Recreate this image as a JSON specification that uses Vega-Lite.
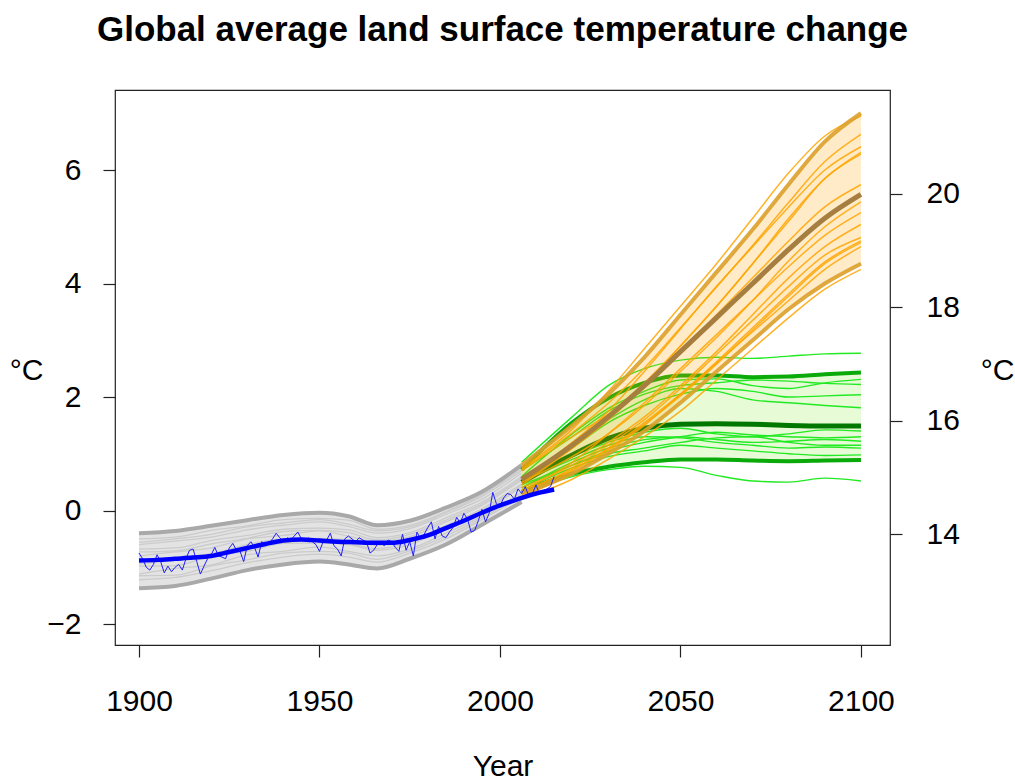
{
  "$schema": "https://vega.github.io/schema/vega-lite/v6.json",
  "width": 775,
  "height": 555,
  "autosize": {"type": "none"},
  "padding": {"left": 115, "top": 90, "right": 125, "bottom": 137},
  "background": "white",
  "title": {"text": "Global average land surface temperature change", "font": "Liberation Sans", "fontSize": 35, "fontWeight": "bold", "color": "black", "anchor": "middle", "offset": 42},
  "config": {
    "view": {"stroke": "#222", "strokeWidth": 1.2},
    "axis": {"labelFont": "Liberation Sans", "labelFontSize": 30, "labelColor": "black", "tickColor": "#222", "tickSize": 12, "tickWidth": 1.2, "domain": false, "grid": false, "titleFont": "Liberation Sans", "titleFontSize": 30, "titleFontWeight": "normal", "titleColor": "black", "labelFlush": false, "labelOverlap": false}
  },
  "datasets": {
    "grey": [
      {"yr":1900,"gT":-0.40,"gB":-1.37,"g1":-1.22,"g2":-1.15,"g3":-1.12,"g4":-0.98,"g5":-0.94,"g6":-0.90,"g7":-0.80,"g8":-0.73,"g9":-0.68,"g10":-0.60,"g11":-0.56,"g12":-0.50},
      {"yr":1910,"gT":-0.36,"gB":-1.33,"g1":-1.18,"g2":-1.14,"g3":-1.02,"g4":-0.97,"g5":-0.88,"g6":-0.83,"g7":-0.73,"g8":-0.71,"g9":-0.66,"g10":-0.54,"g11":-0.50,"g12":-0.47},
      {"yr":1920,"gT":-0.27,"gB":-1.20,"g1":-1.06,"g2":-0.98,"g3":-0.96,"g4":-0.80,"g5":-0.79,"g6":-0.76,"g7":-0.66,"g8":-0.59,"g9":-0.53,"g10":-0.47,"g11":-0.42,"g12":-0.35},
      {"yr":1930,"gT":-0.17,"gB":-1.05,"g1":-0.92,"g2":-0.87,"g3":-0.78,"g4":-0.72,"g5":-0.64,"g6":-0.60,"g7":-0.50,"g8":-0.49,"g9":-0.44,"g10":-0.34,"g11":-0.29,"g12":-0.27},
      {"yr":1940,"gT":-0.08,"gB":-0.95,"g1":-0.82,"g2":-0.75,"g3":-0.72,"g4":-0.58,"g5":-0.57,"g6":-0.50,"g7":-0.44,"g8":-0.37,"g9":-0.33,"g10":-0.26,"g11":-0.22,"g12":-0.16},
      {"yr":1950,"gT":-0.04,"gB":-0.90,"g1":-0.77,"g2":-0.72,"g3":-0.64,"g4":-0.57,"g5":-0.50,"g6":-0.49,"g7":-0.36,"g8":-0.35,"g9":-0.31,"g10":-0.20,"g11":-0.16,"g12":-0.14},
      {"yr":1958,"gT":-0.10,"gB":-0.95,"g1":-0.82,"g2":-0.75,"g3":-0.72,"g4":-0.60,"g5":-0.58,"g6":-0.52,"g7":-0.45,"g8":-0.39,"g9":-0.34,"g10":-0.28,"g11":-0.24,"g12":-0.17},
      {"yr":1966,"gT":-0.26,"gB":-1.02,"g1":-0.91,"g2":-0.86,"g3":-0.80,"g4":-0.70,"g5":-0.67,"g6":-0.62,"g7":-0.55,"g8":-0.52,"g9":-0.48,"g10":-0.40,"g11":-0.36,"g12":-0.33},
      {"yr":1975,"gT":-0.18,"gB":-0.85,"g1":-0.75,"g2":-0.71,"g3":-0.68,"g4":-0.60,"g5":-0.56,"g6":-0.53,"g7":-0.46,"g8":-0.42,"g9":-0.39,"g10":-0.32,"g11":-0.29,"g12":-0.26},
      {"yr":1985,"gT":0.05,"gB":-0.60,"g1":-0.50,"g2":-0.45,"g3":-0.40,"g4":-0.32,"g5":-0.30,"g6":-0.27,"g7":-0.20,"g8":-0.17,"g9":-0.13,"g10":-0.07,"g11":-0.04,"g12":-0.02},
      {"yr":1995,"gT":0.33,"gB":-0.25,"g1":-0.16,"g2":-0.13,"g3":-0.10,"g4":-0.03,"g5":0.00,"g6":0.03,"g7":0.09,"g8":0.12,"g9":0.15,"g10":0.20,"g11":0.25,"g12":0.28},
      {"yr":2006,"gT":0.80,"gB":0.15,"g1":0.24,"g2":0.28,"g3":0.32,"g4":0.42,"g5":0.44,"g6":0.47,"g7":0.54,"g8":0.57,"g9":0.60,"g10":0.66,"g11":0.70,"g12":0.73}
    ],
    "orange": [
      {"yr":2006,"oU":0.80,"oB":0.30,"oM":0.55,"o1":0.75,"o2":0.72,"o3":0.55,"o4":0.70,"o5":0.50,"o6":0.28,"o7":0.45,"o8":0.50,"o9":0.35,"o10":0.40,"o11":0.30,"o12":0.35,"o13":0.25,"o14":0.20},
      {"yr":2020,"oU":1.50,"oB":0.65,"oM":1.15,"o1":1.43,"o2":1.37,"o3":1.20,"o4":1.30,"o5":1.10,"o6":0.70,"o7":1.10,"o8":0.95,"o9":0.85,"o10":0.80,"o11":0.75,"o12":0.72,"o13":0.65,"o14":0.55},
      {"yr":2030,"oU":2.05,"oB":1.00,"oM":1.65,"o1":2.10,"o2":1.89,"o3":1.75,"o4":1.70,"o5":1.60,"o6":1.08,"o7":1.60,"o8":1.35,"o9":1.35,"o10":1.20,"o11":1.15,"o12":1.10,"o13":1.05,"o14":0.90},
      {"yr":2040,"oU":2.70,"oB":1.40,"oM":2.20,"o1":2.85,"o2":2.51,"o3":2.45,"o4":2.25,"o5":2.20,"o6":1.52,"o7":2.20,"o8":1.85,"o9":1.90,"o10":1.65,"o11":1.60,"o12":1.55,"o13":1.50,"o14":1.30},
      {"yr":2050,"oU":3.45,"oB":1.90,"oM":2.80,"o1":3.60,"o2":3.22,"o3":3.20,"o4":2.90,"o5":2.90,"o6":2.02,"o7":2.80,"o8":2.45,"o9":2.50,"o10":2.20,"o11":2.15,"o12":2.05,"o13":2.05,"o14":1.75},
      {"yr":2060,"oU":4.20,"oB":2.45,"oM":3.40,"o1":4.35,"o2":3.94,"o3":3.95,"o4":3.60,"o5":3.60,"o6":2.58,"o7":3.45,"o8":3.05,"o9":3.10,"o10":2.80,"o11":2.75,"o12":2.62,"o13":2.60,"o14":2.30},
      {"yr":2070,"oU":4.95,"oB":3.00,"oM":4.00,"o1":5.15,"o2":4.67,"o3":4.65,"o4":4.35,"o5":4.35,"o6":3.18,"o7":4.10,"o8":3.70,"o9":3.70,"o10":3.45,"o11":3.35,"o12":3.22,"o13":3.15,"o14":2.85},
      {"yr":2080,"oU":5.75,"oB":3.55,"oM":4.60,"o1":5.95,"o2":5.43,"o3":5.35,"o4":5.15,"o5":5.10,"o6":3.78,"o7":4.75,"o8":4.40,"o9":4.30,"o10":4.10,"o11":3.95,"o12":3.82,"o13":3.70,"o14":3.40},
      {"yr":2090,"oU":6.50,"oB":4.00,"oM":5.15,"o1":6.60,"o2":6.15,"o3":6.00,"o4":5.85,"o5":5.85,"o6":4.35,"o7":5.35,"o8":5.00,"o9":4.85,"o10":4.65,"o11":4.50,"o12":4.38,"o13":4.25,"o14":3.90},
      {"yr":2100,"oU":7.00,"oB":4.35,"oM":5.57,"o1":6.95,"o2":6.63,"o3":6.41,"o4":6.31,"o5":6.28,"o6":4.72,"o7":5.74,"o8":5.44,"o9":5.25,"o10":5.04,"o11":4.81,"o12":4.75,"o13":4.65,"o14":4.25}
    ],
    "green": [
      {"yr":2006,"nU":0.72,"nL":0.33,"nM":0.50,"n1":0.85,"n2":0.60,"n3":0.70,"n4":0.50,"n5":0.55,"n6":0.45,"n7":0.45,"n8":0.40,"n9":0.40,"n10":0.50,"n11":0.35,"n12":0.30},
      {"yr":2020,"nU":1.55,"nL":0.65,"nM":0.98,"n1":1.65,"n2":1.35,"n3":1.30,"n4":1.10,"n5":1.15,"n6":0.95,"n7":0.80,"n8":0.85,"n9":0.80,"n10":0.90,"n11":0.75,"n12":0.60},
      {"yr":2030,"nU":1.98,"nL":0.77,"nM":1.27,"n1":2.20,"n2":1.80,"n3":1.75,"n4":1.55,"n5":1.60,"n6":1.20,"n7":1.05,"n8":1.10,"n9":1.00,"n10":1.15,"n11":0.95,"n12":0.72},
      {"yr":2040,"nU":2.25,"nL":0.85,"nM":1.45,"n1":2.50,"n2":2.10,"n3":2.05,"n4":1.85,"n5":1.95,"n6":1.38,"n7":1.20,"n8":1.25,"n9":1.10,"n10":1.30,"n11":1.05,"n12":0.78},
      {"yr":2050,"nU":2.38,"nL":0.90,"nM":1.52,"n1":2.65,"n2":2.30,"n3":2.20,"n4":2.05,"n5":2.15,"n6":1.45,"n7":1.30,"n8":1.30,"n9":1.20,"n10":1.28,"n11":1.15,"n12":0.76},
      {"yr":2060,"nU":2.38,"nL":0.90,"nM":1.53,"n1":2.70,"n2":2.32,"n3":2.25,"n4":2.15,"n5":2.10,"n6":1.35,"n7":1.38,"n8":1.25,"n9":1.28,"n10":1.20,"n11":1.10,"n12":0.62},
      {"yr":2070,"nU":2.35,"nL":0.88,"nM":1.52,"n1":2.68,"n2":2.20,"n3":2.30,"n4":2.10,"n5":1.95,"n6":1.30,"n7":1.33,"n8":1.20,"n9":1.30,"n10":1.15,"n11":1.05,"n12":0.52},
      {"yr":2080,"nU":2.36,"nL":0.87,"nM":1.50,"n1":2.72,"n2":2.15,"n3":2.28,"n4":2.00,"n5":1.90,"n6":1.35,"n7":1.30,"n8":1.22,"n9":1.20,"n10":1.10,"n11":1.00,"n12":0.50},
      {"yr":2090,"nU":2.40,"nL":0.88,"nM":1.49,"n1":2.76,"n2":2.25,"n3":2.24,"n4":2.02,"n5":1.85,"n6":1.42,"n7":1.28,"n8":1.25,"n9":1.15,"n10":1.12,"n11":0.97,"n12":0.57},
      {"yr":2100,"nU":2.43,"nL":0.89,"nM":1.49,"n1":2.77,"n2":2.31,"n3":2.22,"n4":2.04,"n5":1.81,"n6":1.40,"n7":1.30,"n8":1.22,"n9":1.15,"n10":1.10,"n11":0.98,"n12":0.52}
    ],
    "smooth": [
      {"yr":1900,"v":-0.88},{"yr":1905,"v":-0.87},{"yr":1910,"v":-0.85},{"yr":1915,"v":-0.83},{"yr":1920,"v":-0.80},{"yr":1925,"v":-0.73},{"yr":1930,"v":-0.66},{"yr":1935,"v":-0.59},{"yr":1940,"v":-0.53},{"yr":1945,"v":-0.51},{"yr":1950,"v":-0.53},{"yr":1955,"v":-0.55},{"yr":1960,"v":-0.56},{"yr":1965,"v":-0.57},{"yr":1970,"v":-0.57},{"yr":1975,"v":-0.52},{"yr":1980,"v":-0.44},{"yr":1985,"v":-0.31},{"yr":1990,"v":-0.18},{"yr":1995,"v":-0.04},{"yr":2000,"v":0.09},{"yr":2005,"v":0.20},{"yr":2010,"v":0.30},{"yr":2015,"v":0.37}
    ],
    "obs": [
      {"yr":1900,"v":-0.75},{"yr":1901,"v":-0.85},{"yr":1902,"v":-1.0},{"yr":1903,"v":-1.05},{"yr":1904,"v":-0.95},{"yr":1905,"v":-0.78},{"yr":1906,"v":-0.9},{"yr":1907,"v":-1.1},{"yr":1908,"v":-0.98},{"yr":1909,"v":-1.08},
      {"yr":1910,"v":-1.0},{"yr":1911,"v":-0.95},{"yr":1912,"v":-1.05},{"yr":1913,"v":-0.85},{"yr":1914,"v":-0.7},{"yr":1915,"v":-0.68},{"yr":1916,"v":-0.9},{"yr":1917,"v":-1.12},{"yr":1918,"v":-0.98},{"yr":1919,"v":-0.85},
      {"yr":1920,"v":-0.78},{"yr":1921,"v":-0.65},{"yr":1922,"v":-0.8},{"yr":1923,"v":-0.82},{"yr":1924,"v":-0.85},{"yr":1925,"v":-0.66},{"yr":1926,"v":-0.58},{"yr":1927,"v":-0.7},{"yr":1928,"v":-0.72},{"yr":1929,"v":-0.9},
      {"yr":1930,"v":-0.62},{"yr":1931,"v":-0.55},{"yr":1932,"v":-0.65},{"yr":1933,"v":-0.82},{"yr":1934,"v":-0.55},{"yr":1935,"v":-0.6},{"yr":1936,"v":-0.58},{"yr":1937,"v":-0.5},{"yr":1938,"v":-0.4},{"yr":1939,"v":-0.48},
      {"yr":1940,"v":-0.55},{"yr":1941,"v":-0.48},{"yr":1942,"v":-0.52},{"yr":1943,"v":-0.45},{"yr":1944,"v":-0.38},{"yr":1945,"v":-0.5},{"yr":1946,"v":-0.52},{"yr":1947,"v":-0.48},{"yr":1948,"v":-0.55},{"yr":1949,"v":-0.6},
      {"yr":1950,"v":-0.72},{"yr":1951,"v":-0.55},{"yr":1952,"v":-0.52},{"yr":1953,"v":-0.4},{"yr":1954,"v":-0.62},{"yr":1955,"v":-0.68},{"yr":1956,"v":-0.8},{"yr":1957,"v":-0.5},{"yr":1958,"v":-0.45},{"yr":1959,"v":-0.5},
      {"yr":1960,"v":-0.55},{"yr":1961,"v":-0.48},{"yr":1962,"v":-0.52},{"yr":1963,"v":-0.55},{"yr":1964,"v":-0.75},{"yr":1965,"v":-0.7},{"yr":1966,"v":-0.6},{"yr":1967,"v":-0.58},{"yr":1968,"v":-0.62},{"yr":1969,"v":-0.52},
      {"yr":1970,"v":-0.55},{"yr":1971,"v":-0.65},{"yr":1972,"v":-0.72},{"yr":1973,"v":-0.42},{"yr":1974,"v":-0.7},{"yr":1975,"v":-0.55},{"yr":1976,"v":-0.8},{"yr":1977,"v":-0.38},{"yr":1978,"v":-0.5},{"yr":1979,"v":-0.42},
      {"yr":1980,"v":-0.3},{"yr":1981,"v":-0.2},{"yr":1982,"v":-0.5},{"yr":1983,"v":-0.28},{"yr":1984,"v":-0.45},{"yr":1985,"v":-0.48},{"yr":1986,"v":-0.38},{"yr":1987,"v":-0.3},{"yr":1988,"v":-0.12},{"yr":1989,"v":-0.22},
      {"yr":1990,"v":-0.05},{"yr":1991,"v":-0.15},{"yr":1992,"v":-0.38},{"yr":1993,"v":-0.35},{"yr":1994,"v":-0.18},{"yr":1995,"v":0.02},{"yr":1996,"v":-0.2},{"yr":1997,"v":-0.05},{"yr":1998,"v":0.32},{"yr":1999,"v":0.12},
      {"yr":2000,"v":0.08},{"yr":2001,"v":0.22},{"yr":2002,"v":0.3},{"yr":2003,"v":0.28},{"yr":2004,"v":0.2},{"yr":2005,"v":0.38},{"yr":2006,"v":0.3},{"yr":2007,"v":0.42},{"yr":2008,"v":0.25},{"yr":2009,"v":0.3},
      {"yr":2010,"v":0.45},{"yr":2011,"v":0.28},{"yr":2012,"v":0.35},{"yr":2013,"v":0.38},{"yr":2014,"v":0.42},{"yr":2015,"v":0.6}
    ]
  },
  "layer": [
    {
      "encoding": {
        "x": {"field": "yr", "type": "quantitative", "scale": {"domain": [1893.35, 2108.05], "nice": false, "zero": false},
              "axis": {"values": [1900, 1950, 2000, 2050, 2100], "format": "d", "labelPadding": 29, "title": "Year", "titleY": 130, "titleBaseline": "alphabetic"}},
        "y": {"field": "v", "type": "quantitative", "title": "°C", "scale": {"domain": [-2.37, 7.41], "nice": false, "zero": false},
              "axis": {"values": [-2, 0, 2, 4, 6], "labelPadding": 22, "title": "°C", "titleAngle": 0, "titleX": -89, "titleY": 280, "titleAlign": "center", "titleBaseline": "middle"}}
      },
      "layer": [
        {"data": {"name": "grey"}, "mark": {"type": "area", "color": "#e3e3e3", "interpolate": "monotone"},
         "encoding": {"y": {"field": "gB", "type": "quantitative", "title": "°C"}, "y2": {"field": "gT"}}},
        {"data": {"name": "grey"}, "transform": [{"fold": ["g1","g2","g3","g4","g5","g6","g7","g8","g9","g10","g11","g12"], "as": ["s", "v"]}],
         "mark": {"type": "line", "color": "#cbcbcb", "strokeWidth": 1.3, "interpolate": "monotone"},
         "encoding": {"detail": {"field": "s"}}},
        {"data": {"name": "grey"}, "transform": [{"fold": ["gT","gB"], "as": ["s", "v"]}],
         "mark": {"type": "line", "color": "#a9a9a9", "strokeWidth": 4, "interpolate": "monotone"},
         "encoding": {"detail": {"field": "s"}}},
        {"data": {"name": "green"}, "mark": {"type": "area", "color": "#e6fbd6", "interpolate": "monotone"},
         "encoding": {"y": {"field": "nL", "type": "quantitative", "title": "°C"}, "y2": {"field": "nU"}}},
        {"data": {"name": "green"}, "transform": [{"fold": ["n1","n2","n3","n4","n5","n6","n7","n8","n9","n10","n11","n12"], "as": ["s", "v"]}],
         "mark": {"type": "line", "color": "#22ea22", "strokeWidth": 1.4, "interpolate": "monotone"},
         "encoding": {"detail": {"field": "s"}}},
        {"data": {"name": "green"}, "transform": [{"fold": ["nU","nL"], "as": ["s", "v"]}],
         "mark": {"type": "line", "color": "#0aaa0a", "strokeWidth": 4, "interpolate": "monotone"},
         "encoding": {"detail": {"field": "s"}}},
        {"data": {"name": "green"}, "transform": [{"fold": ["nM"], "as": ["s", "v"]}],
         "mark": {"type": "line", "color": "#007800", "strokeWidth": 5, "interpolate": "monotone"},
         "encoding": {"detail": {"field": "s"}}},
        {"data": {"name": "orange"}, "mark": {"type": "area", "color": "#ffa500", "opacity": 0.22, "interpolate": "monotone"},
         "encoding": {"y": {"field": "oB", "type": "quantitative", "title": "°C"}, "y2": {"field": "oU"}}},
        {"data": {"name": "orange"}, "transform": [{"fold": ["o1","o2","o3","o4","o5","o6","o7","o8","o9","o10","o11","o12","o13","o14"], "as": ["s", "v"]}],
         "mark": {"type": "line", "color": "#ffa500", "opacity": 0.85, "strokeWidth": 1.5, "interpolate": "monotone"},
         "encoding": {"detail": {"field": "s"}}},
        {"data": {"name": "orange"}, "transform": [{"fold": ["oU","oB"], "as": ["s", "v"]}],
         "mark": {"type": "line", "color": "#dda02a", "opacity": 0.9, "strokeWidth": 4, "interpolate": "monotone"},
         "encoding": {"detail": {"field": "s"}}},
        {"data": {"name": "orange"}, "transform": [{"fold": ["oM"], "as": ["s", "v"]}],
         "mark": {"type": "line", "color": "#a67e40", "strokeWidth": 5, "interpolate": "monotone"},
         "encoding": {"detail": {"field": "s"}}},
        {"data": {"name": "obs"}, "mark": {"type": "line", "color": "#1f1fff", "strokeWidth": 1}},
        {"data": {"name": "smooth"}, "mark": {"type": "line", "color": "#0000ff", "strokeWidth": 4.5, "interpolate": "monotone"}}
      ]
    },
    {
      "data": {"values": [{"t": 14}]},
      "mark": {"type": "point", "opacity": 0},
      "encoding": {
        "y": {"field": "t", "type": "quantitative", "scale": {"domain": [12.05, 21.83], "nice": false, "zero": false},
              "axis": {"orient": "right", "values": [14, 16, 18, 20], "labelPadding": 24, "title": "°C", "titleAngle": 0, "titleX": 107, "titleY": 280, "titleAlign": "center", "titleBaseline": "middle"}}
      }
    }
  ],
  "resolve": {"scale": {"y": "independent"}}
}
